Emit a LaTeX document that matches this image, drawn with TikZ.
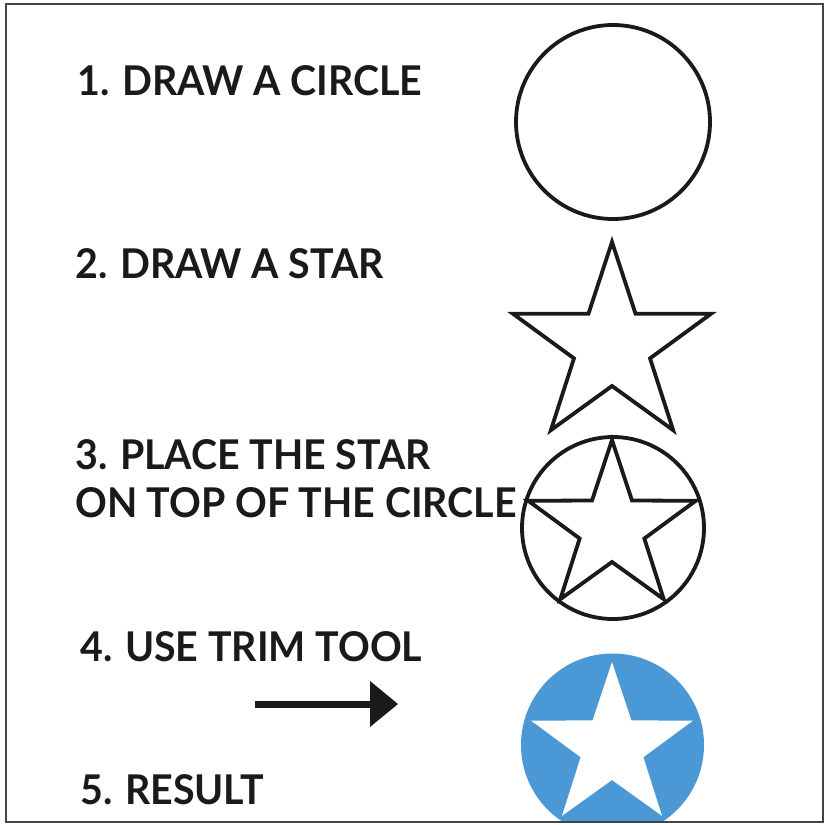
\documentclass[tikz,border=0pt]{standalone}
\usepackage{fontspec}
\setmainfont{Lato}[UprightFont=* Bold, FakeStretch=0.96]
\usetikzlibrary{arrows.meta}
\definecolor{ink}{HTML}{1A1A1A}
\definecolor{frame}{HTML}{444444}
\definecolor{resultblue}{HTML}{4A98D6}
\tikzset{
  label/.style={anchor=base west, inner sep=0pt, text=ink, font=\fontsize{41}{47}\selectfont},
  outline/.style={draw=ink, line width=3.8pt, line join=miter},
}
\newcommand{\starat}[3]{% center, R, r
  ([shift={#1}]-90:#2)
  \foreach \k in {0,...,4}{ -- ([shift={#1}]-54+72*\k:#3) -- ([shift={#1}]-18+72*\k:#2)} -- cycle}
\begin{document}
\begin{tikzpicture}[x=1pt,y=-1pt]
\useasboundingbox (0,0) rectangle (824,825);
\fill[white] (0,0) rectangle (824,825);

% texts
\node[label] (t1) at (77,95) {1. DRAW A CIRCLE};
\node[label] (t2) at (75,278) {2. DRAW A STAR};
\node[label] (t3) at (75,469) {3. PLACE THE STAR};
\node[label] (t4) at (75,517) {ON TOP OF THE CIRCLE};
\node[label] (t5) at (80,661) {4. USE TRIM TOOL};
\node[label] (t6) at (80,804) {5. RESULT};

% 1. circle
\draw[outline] (613,122) circle[radius=97];

% 2. star
\draw[outline] \starat{(612,346)}{104}{40};

% 3. star on circle
\draw[outline] (613,528) circle[radius=91];
\draw[outline] \starat{(612,528)}{88}{34};

% 4. arrow
\coordinate (a1) at (255,704);
\coordinate (a2) at (398,704);
\draw[ink, line width=7pt, -{Triangle[length=28pt,width=46pt,line width=0pt]}] (a1) -- (a2);

% 5. result
\begin{scope}
\clip (6,4) rectangle (823,822);
\fill[resultblue] (612.5,745) circle[radius=91.5];
\fill[white] \starat{(612,747)}{85}{33};
\end{scope}

% frame
\draw[frame, line width=2.2pt] (6,4) rectangle (823,822);
\end{tikzpicture}
\end{document}
